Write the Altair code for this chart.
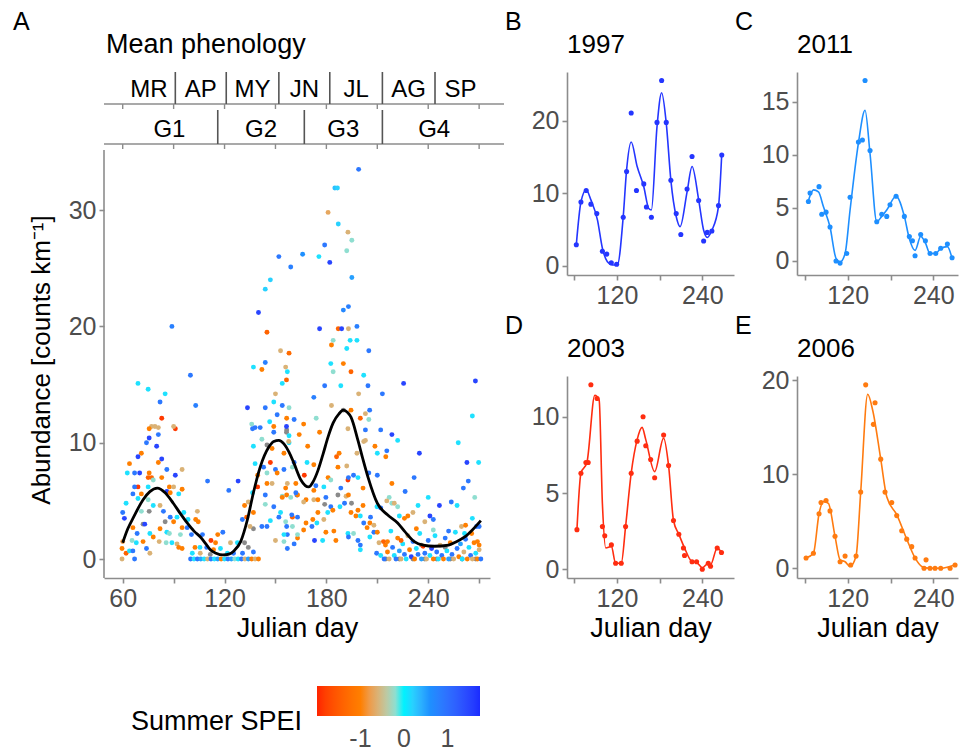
import altair as alt
import pandas as pd

FONT = "Liberation Sans"
AXIS_GREY = "#8c8c8c"
LABEL_GREY = "#4d4d4d"

# ---------------- Panel A: scatter (day, abundance, summer SPEI) ----------------
UPPER_PTS = [
    (152, 26.0, 0.9), (159, 25.1, 0.8), (147, 24.0, 0.2), (144, 23.2, 0.2), (140, 21.2, 1.5),
    (89, 20.0, 0.8), (145, 19.5, -1.4), (153, 17.9, -0.6), (158, 17.7, -1.3), (144, 16.9, 0.8),
    (137, 16.5, 0.1), (142, 16.3, -1.0), (156, 16.5, -0.6),
    (199, 33.5, 0.9), (185, 31.9, 0.3), (186.5, 31.9, 0.2), (181, 29.8, -0.7), (187, 28.8, 0.2),
    (192.7, 28.1, -0.6), (195, 27.4, -0.2), (179, 27.0, 0.9), (192, 26.5, -0.2), (166, 26.2, 0.6),
    (175.6, 26.0, 0.1), (182, 25.5, 1.5), (195, 24.2, 0.5), (193, 21.7, 0.8), (190, 21.4, 0.7),
    (176, 19.8, 1.5), (187, 19.8, -1.4), (189, 19.8, 1.5), (193, 19.8, -0.6), (198, 20.0, 0.8),
    (184, 18.8, -0.2), (194, 18.8, 0.1), (198, 18.8, 0.1), (183, 18.4, -1.0), (192, 18.1, 0.1),
    (205, 17.9, 0.9), (182.6, 16.8, 0.1), (190, 16.8, -1.0),
    (157, 16.1, 0.1), (154, 15.1, 0.1), (156.5, 15.4, -1.4), (184, 16.1, -0.2), (194.5, 16.1, -1.4),
    (202, 15.8, 0.1), (150, 14.2, -0.6), (149, 13.5, 0.1), (154, 13.2, 0.9), (158, 13.0, -0.2),
    (133.5, 13.0, 1.5), (144, 13.0, 0.9), (172.6, 13.9, 0.8), (179, 14.9, 0.9), (188.5, 14.9, 0.1),
    (204.5, 14.9, 0.9), (199, 14.2, -0.6), (213, 14.2, 0.9), (183, 13.2, -0.6), (194.5, 12.8, -1.0),
    (205.5, 12.8, 0.9), (225.5, 15.1, 1.5), (267.8, 15.3, 1.5),
]

EARLY_PTS = [
    (99.9, 15.8, 0.9), (69, 15.1, 0.1), (75, 14.6, 0.1), (85, 14.2, 0.1), (82, 13.5, 0.9),
    (103, 13.2, 0.8), (83, 12.1, -1.85), (91, 11.2, -1.85), (77, 11.4, -0.6), (79, 11.4, -0.6),
    (75.6, 11.2, -1.0), (81, 11.3, -0.6), (90, 11.4, -0.6), (75.6, 10.4, 1.5), (81, 10.7, 0.9),
    (74, 10.0, 0.9), (80, 9.7, 1.5), (71, 9.1, -1.0), (69, 8.8, 1.5), (83, 8.6, 1.5),
    (64, 8.2, -1.0), (81, 8.3, -1.0), (86, 7.7, 0.9), (95, 7.7, -0.6), (62.7, 7.4, 0.1),
    (67, 7.4, 0.9), (75.6, 7.4, -1.0), (70, 7.4, 1.5), (91, 7.2, 1.5), (75, 7.0, -1.4),
    (77, 7.0, -1.4), (83, 7.0, -1.0), (78, 6.8, -0.2), (87.5, 6.2, -1.0), (90, 6.2, -0.6),
    (69, 6.2, -1.85), (67, 6.2, 0.9), (75, 6.2, 0.1), (95, 6.0, -1.0), (66, 5.6, 0.9),
    (71, 5.6, -1.0), (86, 5.8, 1.5), (88, 5.7, -1.0), (93, 5.6, 0.1), (62, 4.8, 0.1),
    (69, 5.2, 0.1), (75, 5.1, -0.2), (78, 4.6, 0.1), (82, 4.6, -0.6), (71, 4.1, -0.2),
    (84, 4.1, 0.9), (60, 4.0, 0.9), (61, 3.5, 1.5), (88, 3.6, 0.9), (92, 3.6, 0.1),
    (90, 3.2, -1.0), (96, 4.0, 0.1), (66, 2.7, -1.0), (73, 3.0, 1.5), (82, 2.6, -1.0),
    (86, 2.3, 0.1), (95, 2.7, -1.0), (98, 2.7, 0.9), (104, 4.1, -0.6), (103, 3.4, -1.0),
    (104.5, 3.2, -1.0), (98.5, 3.4, 0.1), (68.5, 2.2, 0.9), (76, 2.2, 0.1), (78, 1.9, -1.0),
    (87.5, 2.2, -0.2), (94, 2.1, -0.2), (100.5, 2.1, 0.9), (107, 2.1, 0.9), (116, 2.1, -1.0),
    (119, 2.3, 0.9), (112, 1.6, -1.85), (65.5, 1.6, -0.2), (60, 1.5, -0.8), (68, 1.4, 0.1),
    (72, 1.5, -1.0), (74, 0.9, 0.9), (81.5, 1.5, -0.6), (85.6, 1.4, -0.2), (89, 1.4, 0.1),
    (92, 1.3, -0.6), (95, 0.9, -1.0), (93, 1.0, -1.0), (59.6, 0.9, -1.0), (62, 0.5, -1.4),
    (64, 0.7, 0.1), (66, 0.7, 0.9), (76, 0.5, -0.6), (59.6, 0.0, -0.6), (67, 0.0, 0.9),
    (102.6, 1.0, -1.0), (105.5, 1.0, 0.1), (109.5, 1.0, 0.9), (114.7, 1.4, -1.0), (123.5, 1.4, -0.6),
    (127.6, 1.4, 0.1), (117.6, 0.9, 0.1), (113.5, 0.8, -1.0), (101, 0.5, 0.1), (105.7, 0.5, -0.6),
    (121.7, 0.5, 0.1), (125.3, 0.5, 0.9), (130.6, 0.5, 0.9), (137, 0.6, 0.9),
    (100, 0.0, 0.9), (102, 0.0, 0.1), (104, 0.0, 0.9), (106, 0.0, 0.5), (108, 0.0, 0.1),
    (110, 0.0, -0.6), (112, 0.0, 0.9), (114, 0.0, 0.1), (116, 0.0, 0.5), (118, 0.0, -1.0),
    (120, 0.0, 0.1), (122, 0.0, 0.9), (124, 0.0, 0.5), (126, 0.0, -0.2), (128, 0.0, 0.1),
    (130, 0.0, 0.9), (132, 0.0, -0.6), (134, 0.0, 0.5), (136, 0.0, -1.0), (138, 0.0, -0.6),
    (140, 0.0, -1.0),
]

MID_PTS = [
    (122.5, 5.9, 0.9), (128, 6.7, 1.5), (110, 6.7, 0.9), (130.5, 3.4, 0.9), (137, 4.0, -1.0),
    (135, 2.8, -0.6), (145, 2.8, 0.9), (142, 2.8, 0.9), (150, 1.6, -0.6), (155, 1.5, -0.2),
    (157, 2.1, 0.9), (147, 3.3, 0.1), (152, 3.6, 0.9), (156, 3.2, -0.2), (160, 3.6, -1.4),
    (163, 1.8, -1.0), (136, 11.6, -0.2), (138, 11.3, 0.9), (136.5, 11.2, 0.9), (141, 11.3, 0.9),
    (142, 10.3, -0.2), (146.6, 11.8, 0.1), (149, 11.4, -1.0), (149, 10.9, 0.9), (151, 12.4, 0.9),
    (156.6, 12.1, -1.0), (161, 12.0, 0.9), (137, 9.7, 0.1), (148, 9.5, -1.0), (155, 9.1, -1.0),
    (158, 10.0, 0.1), (147, 8.3, -1.85), (138, 8.2, 0.1), (143, 7.9, 0.9), (150, 7.7, 0.9),
    (155, 7.7, 0.9), (139.5, 7.2, -1.0), (145, 7.4, -0.2), (151, 7.4, -1.0), (139.5, 6.2, -1.85),
    (145, 6.5, -1.0), (148, 6.5, -0.6), (157, 6.5, -0.6), (162, 6.5, -1.0), (136.5, 5.7, 0.1),
    (144, 5.5, 0.9), (154, 5.4, -0.2), (162.6, 5.5, 0.9), (134, 4.9, -0.6), (153, 4.0, 0.1),
    (159.6, 3.8, 0.9), (131.8, 4.6, -1.0), (144, 4.7, -0.2), (149, 4.5, 0.9), (133, 3.6, -1.4),
]

LATE_PTS = [
    (203, 12.5, -0.6), (200, 12.1, -1.4), (205, 12.0, -0.2), (174, 12.1, -0.2), (166.6, 11.6, -1.0),
    (156.5, 11.4, 1.5), (158, 10.6, 0.1), (164, 10.7, -1.0), (176, 10.9, -1.0), (192.7, 11.2, -0.6),
    (203, 11.1, 0.9), (203, 10.2, -0.6), (202, 10.1, -0.6), (212, 11.1, 0.9), (218.6, 10.7, 1.5),
    (222, 10.2, 0.1), (208.6, 9.7, -1.0), (169, 9.7, -1.0), (157.8, 10.1, -0.6), (210, 9.1, 0.1),
    (215.6, 9.3, 0.9), (215, 8.8, -1.0), (187.5, 9.1, -1.0), (186, 8.8, -1.4), (186.8, 7.9, -1.0),
    (192, 8.0, -0.6), (198, 9.1, -0.6), (168.6, 8.3, 0.1), (172.6, 8.1, -1.0), (234.8, 9.1, 1.5),
    (262.8, 8.3, 1.5), (269.7, 8.3, 0.1), (257.7, 10.0, 0.1), (266, 12.3, 0.1), (210, 7.2, 0.9),
    (167, 7.2, -1.85), (161, 8.3, 0.9), (160, 7.9, -0.2), (181, 7.0, -1.0), (182.6, 6.8, -0.2),
    (192.7, 6.8, -1.85), (188.5, 6.1, 0.9), (193, 7.0, 0.9), (196, 7.2, 0.9), (198.6, 7.0, 0.1),
    (201.6, 6.1, -1.0), (205, 7.4, 0.9), (172.6, 5.9, -1.0), (173.8, 6.3, 0.9), (178.5, 6.2, 0.1),
    (218.6, 6.5, -1.0), (231.7, 7.0, 0.9), (260.7, 6.1, 0.9), (263.6, 6.7, 0.9), (226.4, 5.8, 0.9),
    (191.6, 5.4, -0.6), (193, 5.5, -1.0), (179.7, 5.3, 0.9), (172.6, 5.1, -0.6), (175, 5.1, -1.0),
    (168, 5.1, -1.0), (166.6, 4.9, -0.6), (163, 5.5, -1.0), (162, 5.7, 0.9), (156.6, 5.5, -1.0),
    (156, 6.1, -1.0), (159, 5.3, -0.2), (154, 5.3, -1.0), (217, 5.3, -0.2), (215.6, 5.0, -0.6),
    (218.6, 4.8, -0.2), (209.8, 4.5, 0.1), (212, 4.4, 0.9), (201.6, 4.6, -1.0), (198.6, 4.2, -1.0),
    (197.4, 3.7, -1.0), (194.5, 4.0, -1.0), (200, 3.7, 0.1), (190.7, 4.8, 0.9), (188, 4.5, 0.1),
    (182.6, 4.5, 0.9), (183.8, 4.2, -1.0), (180.8, 4.0, 0.1), (178.5, 3.4, -0.6), (175, 4.0, -1.0),
    (174.4, 3.1, 0.1), (172, 3.4, -1.0), (171.5, 2.8, 0.9), (168, 3.1, -1.0), (166.6, 2.5, -1.0),
    (163, 3.6, 0.9), (160, 2.8, -0.2), (156.6, 2.8, 0.9), (155, 2.1, 0.1), (161, 1.3, 0.9),
    (157, 0.9, 0.9), (163, 2.1, -0.2), (173, 1.6, 1.5), (177.8, 1.6, 0.1), (179.7, 2.3, -1.0),
    (184.4, 2.4, -1.0), (185.6, 1.6, -1.0), (192.7, 2.2, 0.1), (193, 1.9, 0.9), (198.6, 1.6, 0.9),
    (200, 1.2, 0.9), (200, 0.8, 0.1), (196, 2.2, -0.2), (204, 2.7, -1.0), (205.6, 3.1, -1.0),
    (208, 2.3, 0.9), (210, 2.3, -1.0), (205.6, 1.9, 0.1), (206, 3.6, 0.9), (208, 2.9, -0.6),
    (202, 3.1, 0.9), (209.6, 0.5, 0.9), (214.8, 1.2, -1.0), (216, 1.5, -1.0), (213.6, 1.5, -1.4),
    (220, 4.8, -0.6), (222, 4.5, -0.2), (223, 3.7, 0.1), (226, 3.5, -1.0), (228, 3.7, -1.0),
    (231, 4.0, -0.6), (234, 4.6, 0.1), (240, 5.3, 0.1), (238, 3.2, -0.6), (243, 3.4, 0.9),
    (241, 3.7, 1.5), (246.6, 4.6, 1.5), (253.6, 4.9, 0.9), (257, 4.6, 0.1), (259.6, 2.8, -0.6),
    (261.4, 2.2, 0.1), (267.4, 5.3, -0.2), (268.5, 2.8, 0.9), (270, 2.8, 0.9), (265.6, 2.2, -1.0),
    (269, 1.5, -1.0), (270, 1.2, -1.0),
]

BAND_PTS = [
    (212, 0.3, 0.1), (214, 0.0, 0.9), (216, 0.6, -1.0), (217, 0.0, -0.6), (219, 1.0, 0.9),
    (220, 0.3, 0.1), (221, 0.0, 0.9), (222, 1.8, -1.0), (223, 0.7, 0.5), (224, 0.0, -0.6),
    (225, 1.3, 0.1), (226, 0.4, 0.9), (227, 0.0, 0.1), (228, 2.0, -0.6), (229, 0.8, -1.0),
    (230, 0.2, 1.5), (231, 1.5, 0.9), (232, 0.0, -1.0), (233, 0.9, 0.1), (234, 0.4, 0.9),
    (235, 2.2, 0.1), (236, 0.0, 0.5), (237, 1.1, -1.85), (238, 0.5, 0.9), (239, 0.0, -0.6),
    (240, 1.6, 0.9), (241, 0.3, 0.1), (242, 0.9, 1.5), (243, 0.0, -1.0), (244, 2.0, 0.1),
    (245, 0.6, 0.9), (246, 0.0, 0.1), (247, 1.2, -0.6), (248, 0.3, 0.9), (249, 0.0, -1.0),
    (250, 1.8, 0.9), (251, 0.7, 0.1), (252, 0.0, 0.5), (253, 1.4, -1.0), (254, 0.4, 0.9),
    (255, 0.0, -0.6), (256, 2.3, 0.1), (257, 0.9, 0.9), (258, 0.2, -1.0), (259, 1.3, 0.5),
    (260, 0.0, 0.1), (261, 0.6, -0.6), (262, 1.7, 0.9), (263, 0.0, -1.0), (264, 1.0, 0.1),
    (265, 0.3, 0.9), (266, 0.0, -0.6), (267, 1.4, -1.0), (268, 0.5, 0.1), (269, 0.0, -1.0),
    (270, 0.8, -0.6), (271, 0.0, 0.9), (211, 1.4, -0.6), (218, 2.4, 0.1), (224, 1.6, -1.4),
    (233, 2.6, -1.0), (243, 2.5, -0.2), (252, 2.4, 0.9), (262, 2.9, -1.0), (266, 3.5, 0.1),
]

# points without an SPEI value (drawn grey)
NA_DAY = [75.6, 85, 72, 111.6, 131.8, 134, 137, 145, 156.6, 190, 156.5, 186.8, 194.8, 179,
          215, 223, 231, 238, 245, 253, 260, 268, 236, 250]
NA_ABUND = [4.1, 3.2, 3.0, 0.4, 1.4, 1.0, 2.6, 9.8, 11.1, 12.8, 10.9, 5.5, 4.8, 4.7,
            0.0, 0.0, 0.0, 0.0, 0.0, 0.0, 0.0, 0.0, 1.2, 1.0]

# mean phenology curve
CURVE_DAY = [60, 63, 66.4, 72, 76, 80.4, 85, 89.8, 94, 98, 102, 105.8, 109, 111.6, 115, 119,
             123, 125.5, 129.5, 133.5, 137, 141, 146, 149, 152, 155, 158, 161, 165, 169.6, 172,
             175, 178, 181, 184, 187.5, 190, 192.5, 194.5, 198.6, 201.5, 204.6, 210, 216, 222,
             226, 231.8, 237, 243.6, 252, 256, 261.5, 266, 271]
CURVE_VAL = [1.4, 2.6, 3.6, 5.1, 5.8, 6.1, 5.7, 4.8, 3.9, 3.1, 2.4, 1.9, 1.3, 0.8, 0.5, 0.35,
             0.45, 0.7, 1.5, 3.4, 5.7, 7.9, 9.6, 10.1, 10.2, 9.9, 9.2, 8.2, 6.8, 6.2, 6.6,
             7.6, 9.0, 10.5, 11.7, 12.5, 12.8, 12.6, 12.2, 10.2, 8.6, 7.0, 4.8, 3.8, 3.1,
             2.4, 1.5, 1.2, 1.1, 1.2, 1.45, 1.9, 2.5, 3.3]

# phenology strips
MONTH_LABELS = ["MR", "AP", "MY", "JN", "JL", "AG", "SP"]
MONTH_MIDS = [75.5, 106, 136.5, 167, 197.5, 228.5, 259]
MONTH_BREAKS = [91, 121, 152, 182, 213, 244]
GEN_LABELS = ["G1", "G2", "G3", "G4"]
GEN_MIDS = [87.5, 141.5, 190, 243.5]
GEN_BREAKS = [116, 167, 213]
STRIP_TICKS = [60, 90, 120, 150, 180, 210, 240, 270]

# ---------------- Panels B-E ----------------
B_DAY = [62.8, 69.3, 76.7, 83.3, 91.6, 99.5, 105.6, 112, 119.5, 128.8, 133.5, 140, 147.4, 157.7,
         161.4, 168.4, 176.3, 182.8, 189.3, 195.8, 203.3, 209.8, 218.6, 225.6, 234.9, 241.9,
         247, 253.5, 262.8, 267.4]
B_VAL = [2.9, 8.8, 10.4, 8.5, 7.2, 2.0, 1.6, 0.4, 0.2, 6.7, 13.0, 21.1, 10.4, 11.3,
         8.1, 6.7, 19.8, 25.6, 19.8, 11.8, 7.2, 4.3, 10.6, 15.1, 9.0, 3.4,
         4.6, 4.8, 8.3, 15.3]
B_LDAY = [62.8, 69.3, 76.7, 83.3, 92.6, 99.5, 106.5, 113.5, 120.5, 128.8, 133.5, 140, 148.4,
          157.7, 164.7, 168.4, 176.3, 182.8, 189.3, 195.8, 203.3, 208.8, 218.6, 225.6, 234.9,
          241.9, 247, 253.5, 262.8, 267.4]
B_LVAL = [2.9, 8.8, 10.5, 9.1, 6.3, 2.4, 0.55, 0.1, 0.1, 6.8, 13.2, 17.1, 13.7,
          10.9, 7.9, 7.7, 19.2, 23.9, 19.7, 11.8, 6.8, 5.4, 10.2, 13.7, 9.1,
          4.9, 3.9, 4.9, 8.2, 15.5]

C_DAY = [64.9, 67.2, 79.8, 83.6, 89.6, 95.2, 103.6, 109.3, 118.6, 123.3, 135, 140.6, 144.3,
         151.3, 160.7, 167.7, 174.7, 179.3, 187.8, 199.4, 206.4, 210.7, 214.4, 222.3, 228.9,
         235.4, 243.4, 250.4, 259.7, 266.3]
C_VAL = [5.6, 6.4, 7.0, 4.4, 4.6, 3.2, 0.0, -0.2, 0.7, 6.0, 11.2, 11.4, 17.0,
         10.4, 3.7, 4.4, 4.2, 5.3, 6.1, 4.2, 2.3, 1.9, 0.5, 2.5, 1.9,
         0.7, 0.7, 1.2, 1.6, 0.3]
C_LDAY = [64.9, 72, 79, 86, 95.2, 103.6, 109.3, 116.3, 123.3, 135, 144.3, 151.3, 160.7,
          167.7, 174.7, 187.8, 199.4, 206.4, 214.4, 222.3, 228.9, 235.4, 243.4, 250.4, 259.7,
          266.3]
C_LVAL = [5.7, 6.7, 6.5, 5.1, 3.2, 0.25, -0.1, 0.7, 4.8, 11.1, 14.2, 10.1, 3.7,
          4.2, 4.8, 6.1, 4.2, 2.1, 1.0, 2.3, 1.7, 0.7, 0.7, 1.2, 1.35, 0.25]

D_DAY = [63.7, 69.3, 76.3, 79.5, 83.3, 92.1, 99.5, 102.8, 112.1, 118.1, 126, 132.1, 140,
         148.4, 156.7, 160.5, 167.4, 173, 185.6, 192.6, 199.5, 207, 213.5, 215, 225.6, 232,
         240, 248.4, 251.6, 261, 267]
D_VAL = [2.6, 6.3, 7.0, 7.0, 12.1, 11.2, 2.8, 2.2, 1.6, 0.4, 0.4, 2.8, 6.3,
         8.4, 10.0, 8.1, 7.2, 6.0, 8.8, 6.8, 3.2, 2.3, 1.4, 0.9, 0.5, 0.5,
         0.0, 0.4, 0.2, 1.4, 1.1]
D_LDAY = [63.7, 69.3, 77.7, 88.8, 94.9, 99.5, 104.2, 112.1, 118.1, 126, 132.1, 140, 148.4,
          155.3, 160.5, 173, 185.6, 192.6, 199.5, 207, 215, 225.6, 232, 240, 248.4, 251.6,
          261, 267]
D_LVAL = [2.6, 6.3, 7.0, 11.4, 11.1, 4.3, 1.4, 1.5, 0.4, 0.4, 2.8, 6.3, 8.5,
          9.3, 8.5, 6.4, 8.6, 6.8, 3.2, 2.3, 1.4, 0.5, 0.45, 0.1, 0.4, 0.3,
          1.4, 1.1]

E_DAY = [61.6, 71.9, 79.8, 82.6, 89.6, 95.2, 102.2, 109.3, 116.3, 124.2, 131.7, 138.2, 145.2,
         156, 158.3, 166.3, 172.3, 181.7, 188.7, 195.7, 202.7, 209.7, 214.4, 227, 229.8,
         235.4, 242.4, 250.4, 263.5, 270.5]
E_VAL = [1.1, 1.6, 5.8, 7.0, 7.2, 6.1, 3.4, 0.7, 1.3, 0.35, 1.3, 8.1, 19.5,
         15.3, 17.6, 11.6, 8.1, 7.0, 5.6, 4.0, 3.1, 2.3, 1.1, 0.0, 0.9,
         0.0, 0.0, 0.0, 0.0, 0.35]
E_LDAY = [61.6, 71.9, 79.8, 85.9, 92.9, 102.2, 109.3, 116.3, 123.3, 131.7, 138.2, 148, 155,
          166.3, 174.7, 188.7, 202.7, 214.4, 223.7, 235.4, 250.4, 263.5, 270.5]
E_LVAL = [1.1, 1.6, 5.8, 7.1, 6.9, 3.4, 0.9, 0.7, 0.2, 1.3, 8.1, 18.5, 16.8,
          11.6, 7.6, 5.7, 3.1, 1.1, 0.2, 0.0, 0.0, 0.2, 0.35]

SPEI_DOMAIN = [-2.0, -1.0, 0.0, 0.6, 1.75]
SPEI_RANGE = ["#ff2400", "#ff7f00", "#00f2ff", "#1e90ff", "#1a2bff"]
LEGEND_VALUES = [-1, 0, 1]

# ------------------------------------------------------------------
one = pd.DataFrame({"t": [""]})
TITLE_SIZE = 27


def txt(label, x, y, size=TITLE_SIZE, align="left", baseline="alphabetic", angle=0,
        color="black"):
    kw = dict(fontSize=size, font=FONT, align=align, baseline=baseline, color=color)
    if angle:
        kw["angle"] = angle
    return alt.Chart(pd.DataFrame({"t": [label]})).mark_text(**kw).encode(
        text="t:N", x=alt.value(x), y=alt.value(y))


main_rows = []
for grp in (UPPER_PTS, EARLY_PTS, MID_PTS, LATE_PTS, BAND_PTS):
    for d, a, s in grp:
        main_rows.append({"day": d, "abund": a, "spei": s})
main_df = pd.DataFrame(main_rows)
na_df = pd.DataFrame({"day": NA_DAY, "abund": NA_ABUND})
curve_df = pd.DataFrame({"day": CURVE_DAY, "abund": CURVE_VAL})

X_MAIN = alt.X("day:Q",
               scale=alt.Scale(domain=[48.98, 276.4], nice=False, zero=False),
               axis=alt.Axis(values=STRIP_TICKS,
                             labelExpr="datum.value % 60 == 0 ? datum.label : ''",
                             title="Julian day", titlePadding=4, labelFlush=False))
Y_MAIN = alt.Y("abund:Q",
               scale=alt.Scale(domain=[-1.63, 41.87], nice=False, zero=False),
               axis=alt.Axis(values=[0, 10, 20, 30], domain=False, title=None))

na_layer = alt.Chart(na_df).mark_circle(size=24, opacity=1, color="#8a8a8a").encode(
    x=X_MAIN, y=Y_MAIN)
pts_layer = alt.Chart(main_df).mark_circle(size=24, opacity=1).encode(
    x=X_MAIN, y=Y_MAIN,
    color=alt.Color("spei:Q",
                    scale=alt.Scale(domain=SPEI_DOMAIN, range=SPEI_RANGE, interpolate="lab"),
                    legend=alt.Legend(orient="none", legendX=213, legendY=614,
                                      direction="horizontal", gradientLength=163,
                                      gradientThickness=30, title=None, values=LEGEND_VALUES,
                                      labelExpr="datum.value < 0 ? '-' + abs(datum.value) : datum.label",
                                      labelFontSize=25, labelColor=LABEL_GREY, labelFont=FONT,
                                      gradientStrokeWidth=0, labelOffset=11, padding=0)))
curve_layer = alt.Chart(curve_df).mark_line(color="black", strokeWidth=2.8,
                                             interpolate="monotone").encode(x=X_MAIN, y=Y_MAIN)

# white tick marks drawn on the colour bar at the labelled values (legend geometry)
LEG_X0, LEG_LEN, LEG_Y0, LEG_TH = 213, 163, 614, 30
leg_tick_rows = []
for v in LEGEND_VALUES:
    px = LEG_X0 + (v - SPEI_DOMAIN[0]) / (SPEI_DOMAIN[-1] - SPEI_DOMAIN[0]) * LEG_LEN
    leg_tick_rows.append({"px": px, "ya": LEG_Y0, "yb": LEG_Y0 + 6})
    leg_tick_rows.append({"px": px, "ya": LEG_Y0 + LEG_TH - 6, "yb": LEG_Y0 + LEG_TH})
leg_ticks = alt.Chart(pd.DataFrame(leg_tick_rows)).mark_rule(
    color="white", strokeWidth=1.2, opacity=0.9).encode(
    x=alt.X("px:Q", scale=None), y=alt.Y("ya:Q", scale=None), y2="yb:Q")

y_axis_line = alt.Chart(one).mark_rule(color=AXIS_GREY, strokeWidth=1.6).encode(
    x=alt.value(0), y=alt.value(78), y2=alt.value(506))
anchor = alt.Chart(one).mark_rule(opacity=0).encode(
    x=alt.value(-104), x2=alt.value(-100), y=alt.value(-72))

strip_lines = alt.Chart(pd.DataFrame({"yy": [32, 72]})).mark_rule(
    color=AXIS_GREY, strokeWidth=1.6).encode(
    x=alt.value(0), x2=alt.value(400), y=alt.Y("yy:Q", scale=None))
tick_rows = [{"day": d, "y1": y0, "y2": y0 + 5} for y0 in (32, 72) for d in STRIP_TICKS]
strip_ticks = alt.Chart(pd.DataFrame(tick_rows)).mark_rule(
    color=AXIS_GREY, strokeWidth=1.4).encode(
    x=X_MAIN, y=alt.Y("y1:Q", scale=None), y2="y2:Q")
month_sep = alt.Chart(pd.DataFrame({"day": MONTH_BREAKS})).mark_rule(
    color="#555555", strokeWidth=1.6).encode(x=X_MAIN, y=alt.value(0), y2=alt.value(32))
gen_sep = alt.Chart(pd.DataFrame({"day": GEN_BREAKS})).mark_rule(
    color="#555555", strokeWidth=1.6).encode(x=X_MAIN, y=alt.value(38), y2=alt.value(72))
month_txt = alt.Chart(pd.DataFrame({"day": MONTH_MIDS, "lab": MONTH_LABELS})).mark_text(
    fontSize=24, font=FONT, color="black", baseline="alphabetic").encode(
    x=X_MAIN, y=alt.value(25), text="lab:N")
gen_txt = alt.Chart(pd.DataFrame({"day": GEN_MIDS, "lab": GEN_LABELS})).mark_text(
    fontSize=24, font=FONT, color="black", baseline="alphabetic").encode(
    x=X_MAIN, y=alt.value(65), text="lab:N")

main = alt.layer(
    anchor, y_axis_line, strip_lines, strip_ticks, month_sep, gen_sep, month_txt, gen_txt,
    na_layer, pts_layer, curve_layer, leg_ticks,
    txt("A", -91, -42, size=25),
    txt("Mean phenology", 2, -19),
    txt("Abundance [counts km⁻¹]", -62, 288, angle=270, align="center", baseline="middle",
        size=26),
    txt("Summer SPEI", 198, 658),
).properties(width=386, height=506)
# right-align the SPEI title
main.layer[-1] = txt("Summer SPEI", 198, 658, align="right")


def panel(days, vals, ldays, lvals, color, xdom, ydom, yticks, width, height,
          year, letter, xtitle):
    xe = alt.X("day:Q", scale=alt.Scale(domain=xdom, nice=False, zero=False),
               axis=alt.Axis(values=[60, 120, 180, 240],
                             labelExpr="datum.value == 120 || datum.value == 240 ? datum.label : ''",
                             title=xtitle if xtitle else None, titlePadding=4))
    ye = alt.Y("val:Q", scale=alt.Scale(domain=ydom, nice=False, zero=False),
               axis=alt.Axis(values=yticks, title=None))
    pdf = pd.DataFrame({"day": days, "val": vals})
    ldf = pd.DataFrame({"day": ldays, "val": lvals})
    line = alt.Chart(ldf).mark_line(color=color, strokeWidth=1.6,
                                    interpolate="monotone").encode(x=xe, y=ye)
    dots = alt.Chart(pdf).mark_circle(size=26, opacity=1, color=color).encode(x=xe, y=ye)
    return alt.layer(
        line, dots,
        txt(letter, -62, -42, size=25),
        txt(year, 0, -19, size=26),
    ).properties(width=width, height=height)


pB = panel(B_DAY, B_VAL, B_LDAY, B_LVAL, "#2436ff", [49.7, 284.6], [-1.29, 26.77],
           [0, 10, 20], 167, 203, "1997", "B", None)
pC = panel(C_DAY, C_VAL, C_LDAY, C_LVAL, "#1e8fff", [48.9, 274.6], [-1.32, 17.8],
           [0, 5, 10, 15], 161, 203, "2011", "C", None)
pD = panel(D_DAY, D_VAL, D_LDAY, D_LVAL, "#ff2d10", [49.7, 284.6], [-0.57, 12.67],
           [0, 5, 10], 167, 202, "2003", "D", "Julian day")
pE = panel(E_DAY, E_VAL, E_LDAY, E_LVAL, "#ff7b10", [48.9, 274.6], [-1.03, 20.44],
           [0, 10, 20], 161, 202, "2006", "E", "Julian day")

right = alt.concat(pB, pC, pD, pE, columns=2, bounds="flush",
                   spacing={"row": 101, "column": 63})

chart = alt.hconcat(main, right, spacing=77, bounds="flush").resolve_scale(
    color="independent"
).properties(padding=0).configure_view(stroke=None).configure_axis(
    grid=False, domainColor=AXIS_GREY, domainWidth=1.6, tickColor=AXIS_GREY, tickWidth=1.6,
    tickSize=5, labelFont=FONT, labelFontSize=25, labelColor=LABEL_GREY, labelPadding=3,
    titleFont=FONT, titleFontSize=TITLE_SIZE, titleFontWeight="normal", titleColor="black"
)

chart.save("out.html", embed_options={"renderer": "svg", "actions": False})
